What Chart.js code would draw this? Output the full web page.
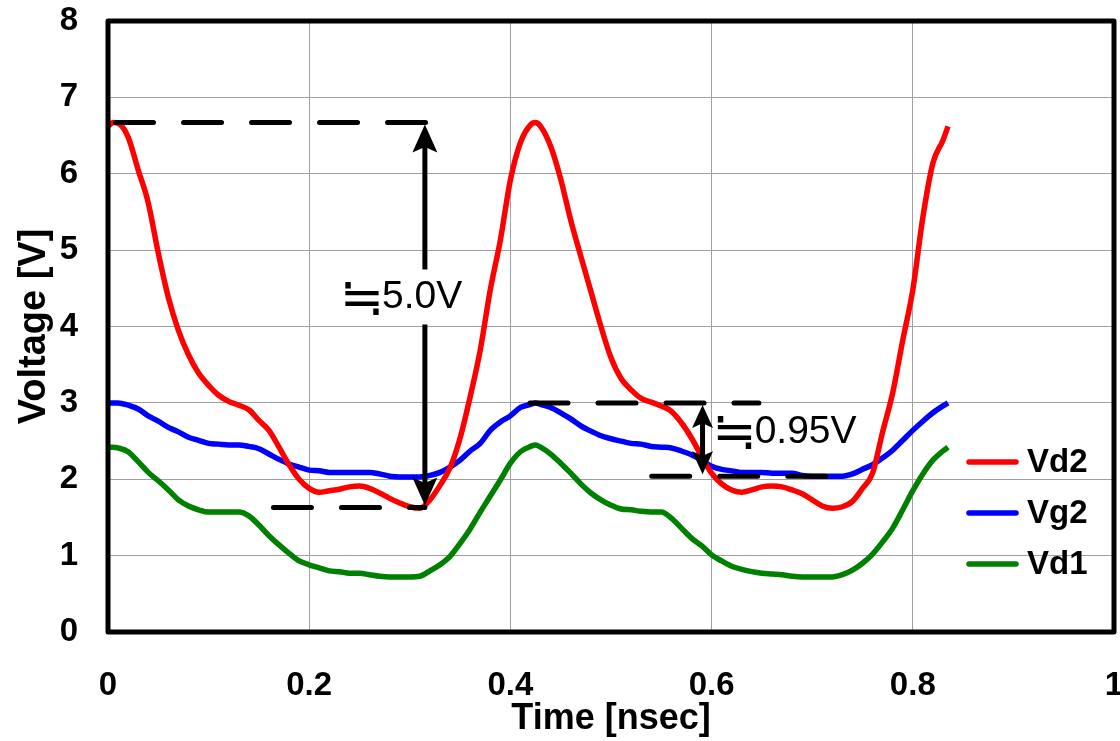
<!DOCTYPE html>
<html>
<head>
<meta charset="utf-8">
<script src="https://cdn.jsdelivr.net/npm/chart.js@4"></script>
<style>
  body { margin: 0; background: #ffffff; }
  canvas { display: block; }
</style>
</head>
<body>
<canvas id="waves" width="1120" height="741"></canvas>
<script>
// time axis, nsec
var timeNs = [
  0, 0.005, 0.01, 0.02, 0.03, 0.04, 0.05, 0.06, 0.07, 0.08, 0.09,
  0.10, 0.11, 0.12, 0.13, 0.14, 0.15, 0.16, 0.17, 0.18, 0.19,
  0.20, 0.21, 0.22, 0.23, 0.24, 0.25, 0.26, 0.27, 0.28, 0.29,
  0.30, 0.31, 0.32, 0.33, 0.34, 0.35, 0.36, 0.37, 0.38, 0.39,
  0.40, 0.41, 0.42, 0.425, 0.43, 0.44, 0.45, 0.46, 0.47, 0.48, 0.49,
  0.50, 0.51, 0.52, 0.53, 0.54, 0.55, 0.56, 0.57, 0.58, 0.59,
  0.60, 0.61, 0.62, 0.63, 0.64, 0.65, 0.66, 0.67, 0.68, 0.69,
  0.70, 0.71, 0.72, 0.73, 0.74, 0.75, 0.76, 0.77, 0.78, 0.79,
  0.80, 0.81, 0.82, 0.83, 0.835
]

var vd2 = [
  6.62, 6.67, 6.66, 6.48, 6.05, 5.62, 4.96, 4.38, 3.95, 3.63, 3.39,
  3.23, 3.10, 3.02, 2.97, 2.91, 2.77, 2.64, 2.42, 2.19, 2.00,
  1.88, 1.83, 1.85, 1.87, 1.90, 1.91, 1.88, 1.82, 1.75, 1.69,
  1.64, 1.62, 1.73, 1.92, 2.15, 2.54, 3.08, 3.69, 4.48, 5.13,
  5.92, 6.41, 6.64, 6.67, 6.62, 6.36, 5.93, 5.39, 4.92, 4.46, 4.00,
  3.59, 3.32, 3.17, 3.06, 3.01, 2.96, 2.89, 2.74, 2.54, 2.30,
  2.08, 1.94, 1.86, 1.83, 1.86, 1.90, 1.91, 1.90, 1.86, 1.81,
  1.73, 1.65, 1.62, 1.64, 1.71, 1.88, 2.08, 2.62, 3.13, 3.82,
  4.48, 5.43, 6.14, 6.44, 6.62
]

var vg2 = [
  3.00, 3.00, 3.00, 2.97, 2.92, 2.83, 2.76, 2.68, 2.62, 2.55, 2.51,
  2.47, 2.46, 2.45, 2.45, 2.43, 2.40, 2.33, 2.26, 2.20, 2.16,
  2.12, 2.11, 2.09, 2.09, 2.09, 2.09, 2.09, 2.07, 2.04, 2.03,
  2.03, 2.03, 2.05, 2.09, 2.16, 2.25, 2.37, 2.47, 2.64, 2.75,
  2.83, 2.94, 2.98, 3.00, 2.98, 2.94, 2.87, 2.79, 2.70, 2.63, 2.57,
  2.53, 2.50, 2.47, 2.46, 2.43, 2.42, 2.41, 2.37, 2.32, 2.25,
  2.17, 2.13, 2.11, 2.09, 2.09, 2.09, 2.08, 2.08, 2.08, 2.05,
  2.04, 2.04, 2.04, 2.04, 2.07, 2.13, 2.19, 2.28, 2.38, 2.51,
  2.64, 2.76, 2.87, 2.96, 3.00
]

var vd1 = [
  2.42, 2.42, 2.41, 2.36, 2.23, 2.09, 1.98, 1.86, 1.73, 1.65, 1.60,
  1.57, 1.57, 1.57, 1.57, 1.52, 1.40, 1.26, 1.14, 1.03, 0.93,
  0.88, 0.84, 0.80, 0.79, 0.77, 0.77, 0.75, 0.73, 0.72, 0.72,
  0.72, 0.73, 0.80, 0.88, 0.99, 1.16, 1.35, 1.57, 1.78, 1.99,
  2.21, 2.36, 2.43, 2.45, 2.42, 2.33, 2.21, 2.08, 1.94, 1.82, 1.73,
  1.66, 1.61, 1.60, 1.58, 1.57, 1.57, 1.49, 1.36, 1.23, 1.13,
  1.01, 0.93, 0.86, 0.82, 0.79, 0.77, 0.76, 0.75, 0.73, 0.72,
  0.72, 0.72, 0.72, 0.75, 0.81, 0.90, 1.02, 1.18, 1.36, 1.60,
  1.85, 2.07, 2.25, 2.37, 2.42
]

var seriesNames = ["Vd2", "Vg2", "Vd1"]
var seriesColors = ["#ff0000", "#0000ff", "#008000"]
var seriesValues = [vd2, vg2, vd1]

// swing markers: [t start, t end, level]
var swingLarge = { top: [0.005, 0.325, 6.67], bottom: [0.162, 0.315, 1.63], arrowT: 0.315, label: "5.0V", labelT: 0.2356, labelV: 4.38 }
var swingSmall = { top: [0.417, 0.647, 3.0], bottom: [0.538, 0.72, 2.04], arrowT: 0.591, label: "0.95V", labelT: 0.606, labelV: 2.62 }

var fontFamily = "'Liberation Sans', Arial, sans-serif"
var signFont = "40px 'Noto Sans CJK JP', 'DejaVu Sans', sans-serif"

function toPoints(values) {
  var pts = []
  for (var i = 0; i < timeNs.length; i++) {
    pts.push({ x: timeNs[i], y: values[i] })
  }
  return pts
}

// ink bounds of one glyph, found by drawing it on a scratch canvas
function inkBox(font, ch) {
  var c = document.createElement("canvas")
  c.width = 200
  c.height = 200
  var g = c.getContext("2d")
  g.font = font
  g.textBaseline = "alphabetic"
  g.fillStyle = "#000000"
  g.fillText(ch, 50, 120)
  var px = g.getImageData(0, 0, 200, 200).data
  var minX = 200, minY = 200, maxX = -1, maxY = -1
  for (var y = 0; y < 200; y++) {
    for (var x = 0; x < 200; x++) {
      if (px[(y * 200 + x) * 4 + 3] > 60) {
        if (x < minX) minX = x
        if (x > maxX) maxX = x
        if (y < minY) minY = y
        if (y > maxY) maxY = y
      }
    }
  }
  if (maxX < 0) return { left: 0, top: -30, w: 30, h: 30 }
  return { left: minX - 50, top: minY - 120, w: maxX - minX + 1, h: maxY - minY + 1 }
}

var signBox = null

function dashedLevel(ctx, scales, seg) {
  var y = scales.y.getPixelForValue(seg[2])
  ctx.save()
  ctx.strokeStyle = "#000000"
  ctx.lineWidth = 5
  ctx.lineCap = "round"
  ctx.setLineDash([38, 30])
  ctx.beginPath()
  ctx.moveTo(scales.x.getPixelForValue(seg[0]) + 2.5, y)
  ctx.lineTo(scales.x.getPixelForValue(seg[1]), y)
  ctx.stroke()
  ctx.restore()
}

function arrowHead(ctx, x, tipY, dir, w, len) {
  ctx.beginPath()
  ctx.moveTo(x, tipY)
  ctx.lineTo(x - w / 2, tipY + dir * len)
  ctx.lineTo(x, tipY + dir * len * 0.8)
  ctx.lineTo(x + w / 2, tipY + dir * len)
  ctx.closePath()
  ctx.fill()
}

function doubleArrow(ctx, scales, swing, w, len) {
  var x = scales.x.getPixelForValue(swing.arrowT)
  var y1 = scales.y.getPixelForValue(swing.top[2]) + 2
  var y2 = scales.y.getPixelForValue(swing.bottom[2]) - 2
  ctx.save()
  ctx.strokeStyle = "#000000"
  ctx.fillStyle = "#000000"
  ctx.lineWidth = 5
  ctx.beginPath()
  ctx.moveTo(x, y1 + len * 0.7)
  ctx.lineTo(x, y2 - len * 0.7)
  ctx.stroke()
  arrowHead(ctx, x, y1, 1, w, len)
  arrowHead(ctx, x, y2, -1, w, len)
  ctx.restore()
}

// "≒" followed by the value; the sign keeps its own proportions, sized to 33px wide
function approxLabel(ctx, text, x, y) {
  var signW = 33
  if (!signBox) signBox = inkBox(signFont, "≒")
  var k = signW / signBox.w
  ctx.save()
  ctx.font = signFont
  ctx.textBaseline = "alphabetic"
  ctx.translate(x, y + 1 - signBox.h * k / 2)
  ctx.scale(k, k)
  ctx.fillText("≒", -signBox.left, -signBox.top)
  ctx.restore()

  ctx.font = "39px " + fontFamily
  ctx.textBaseline = "middle"
  ctx.fillText(text, x + signW + 4, y)
}

var annotationPlugin = {
  id: "swings",
  afterDatasetsDraw: function (chart) {
    var ctx = chart.ctx
    var scales = chart.scales
    var area = chart.chartArea

    // plot frame
    ctx.save()
    ctx.strokeStyle = "#000000"
    ctx.lineWidth = 5
    ctx.lineJoin = "round"
    ctx.strokeRect(area.left, area.top, area.right - area.left, area.bottom - area.top)
    ctx.restore()

    dashedLevel(ctx, scales, swingLarge.top)
    dashedLevel(ctx, scales, swingLarge.bottom)
    dashedLevel(ctx, scales, swingSmall.top)
    dashedLevel(ctx, scales, swingSmall.bottom)
    doubleArrow(ctx, scales, swingLarge, 25, 28)
    doubleArrow(ctx, scales, swingSmall, 21, 23)

    ctx.save()
    ctx.textAlign = "left"

    // big swing label sits on a white patch over the arrow shaft
    var lx = scales.x.getPixelForValue(swingLarge.labelT)
    var ly = scales.y.getPixelForValue(swingLarge.labelV)
    ctx.fillStyle = "#ffffff"
    ctx.fillRect(lx - 6, ly - 28, 128, 55)
    ctx.fillStyle = "#000000"
    approxLabel(ctx, swingLarge.label, lx, ly)

    approxLabel(ctx, swingSmall.label, scales.x.getPixelForValue(swingSmall.labelT), scales.y.getPixelForValue(swingSmall.labelV))
    ctx.restore()

    // legend inside the plot, lower right
    ctx.save()
    ctx.font = "bold 33px " + fontFamily
    ctx.textBaseline = "middle"
    ctx.textAlign = "left"
    for (var i = 0; i < seriesNames.length; i++) {
      var ky = 462 + i * 51
      ctx.strokeStyle = seriesColors[i]
      ctx.lineWidth = 5.5
      ctx.lineCap = "round"
      ctx.beginPath()
      ctx.moveTo(969, ky)
      ctx.lineTo(1016, ky)
      ctx.stroke()
      ctx.fillStyle = "#000000"
      ctx.fillText(seriesNames[i], 1027, ky + 1)
    }
    ctx.restore()
  }
}

var datasets = []
for (var i = 0; i < seriesNames.length; i++) {
  datasets.push({
    label: seriesNames[i],
    data: toPoints(seriesValues[i]),
    borderColor: seriesColors[i],
    borderWidth: 5.5,
    pointRadius: 0,
    cubicInterpolationMode: "monotone",
    fill: false
  })
}

var tickFont = { family: fontFamily, size: 33, weight: "bold" }

new Chart(document.getElementById("waves"), {
  type: "line",
  data: { datasets: datasets },
  plugins: [annotationPlugin],
  options: {
    responsive: false,
    animation: false,
    layout: { padding: { top: 21, right: 6, left: 0, bottom: 0 } },
    plugins: {
      legend: { display: false },
      tooltip: { enabled: false }
    },
    scales: {
      x: {
        type: "linear",
        min: 0,
        max: 1,
        ticks: {
          stepSize: 0.2,
          padding: 34,
          color: "#000000",
          font: tickFont,
          maxRotation: 0,
          callback: function (v) {
            if (v === 0 || v === 1) return String(v)
            return v.toFixed(1)
          }
        },
        grid: { color: "#a0a0a0", lineWidth: 1, drawTicks: false },
        border: { display: false },
        title: { display: true, text: "Time [nsec]", color: "#000000", font: { family: fontFamily, size: 36, weight: "bold" }, padding: { top: 0, bottom: 0 } },
        afterFit: function (scale) {
          scale.height = 109
          scale.paddingLeft = 0
          scale.paddingRight = 0
        }
      },
      y: {
        min: 0,
        max: 8,
        ticks: { stepSize: 1, padding: 30, color: "#000000", font: tickFont },
        grid: { color: "#a0a0a0", lineWidth: 1, drawTicks: false },
        border: { display: false },
        title: { display: true, text: "Voltage [V]", color: "#000000", font: { family: fontFamily, size: 38, weight: "bold" }, padding: { top: 12, bottom: 0 } },
        afterFit: function (scale) {
          scale.width = 108
          scale.paddingTop = 0
          scale.paddingBottom = 0
        }
      }
    }
  }
})
</script>
</body>
</html>
